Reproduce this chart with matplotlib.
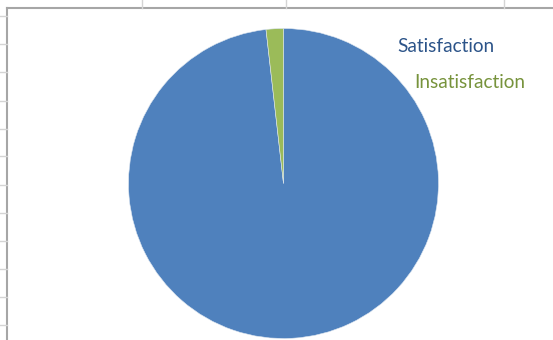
import matplotlib.pyplot as plt
from matplotlib.lines import Line2D

labels = ["Satisfaction", "Insatisfaction"]
values = [98.2, 1.8]
slice_colors = ["#4F81BD", "#9BBB59"]
text_colors = ["#2C5489", "#77933C"]

W, H = 553, 340
fig = plt.figure(figsize=(W / 100, H / 100), dpi=100)
fig.patch.set_facecolor("white")


def px(x, y):
    # pixel coords (from top-left) -> figure fraction
    return x / W, 1 - y / H


grid_col = "#D4D4D4"
# spreadsheet cell lines behind the chart
for gx in [141.5, 286, 504]:
    (x0, y0), (x1, y1) = px(gx, 0), px(gx, 8)
    fig.add_artist(Line2D([x0, x1], [y0, y1], color=grid_col, lw=1))
for gy in [15.5, 44, 72, 100.5, 129, 156.5, 185, 213, 240.5, 269, 296.5, 325]:
    (x0, y0), (x1, y1) = px(0, gy), px(7, gy)
    fig.add_artist(Line2D([x0, x1], [y0, y1], color=grid_col, lw=1))

# chart area frame
frame = fig.add_axes([7 / W, 0, 1 - 7 / W, 1 - 8 / H])
frame.set_xticks([])
frame.set_yticks([])
for s in ["right", "bottom"]:
    frame.spines[s].set_visible(False)
for s in ["left", "top"]:
    frame.spines[s].set_color("#A6A6A6")
    frame.spines[s].set_linewidth(1.5)

# pie
cx, cy, r = 283.5, 183.5, 155
ax = fig.add_axes([(cx - r) / W, 1 - (cy + r) / H, 2 * r / W, 2 * r / H])
ax.pie(values, colors=slice_colors, startangle=90, counterclock=False,
       radius=1, wedgeprops=dict(linewidth=0.4, edgecolor="#DDE6F0"))
ax.set_xlim(-1, 1)
ax.set_ylim(-1, 1)
ax.set_aspect("auto")
ax.axis("off")

# legend entries
for lab, col, (lx, ly) in zip(labels, text_colors, [(397, 47), (414, 82)]):
    x, y = px(lx, ly)
    fig.text(x, y, lab, color=col, fontsize=13.7, family="Lato",
             ha="left", va="center")

fig.savefig("out.png", dpi=100)
